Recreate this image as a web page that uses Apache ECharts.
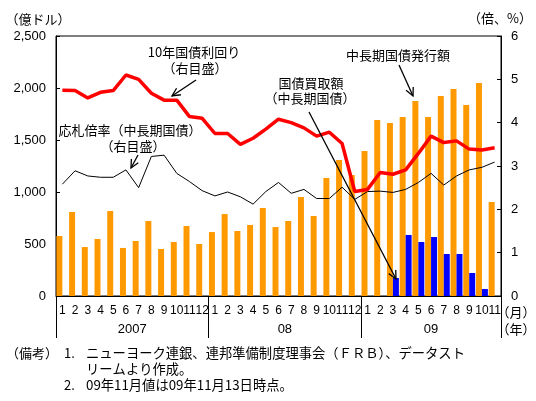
<!DOCTYPE html>
<html>
<head>
<meta charset="utf-8">
<script src="https://cdn.jsdelivr.net/npm/echarts@6/dist/echarts.min.js"></script>
<style>
  html, body { margin: 0; padding: 0; background: #fff; }
  #chart { width: 536px; height: 401px; }
</style>
</head>
<body>
<div id="chart"></div>
<script>
// 月（2007年1月〜2009年11月）
const months = [
  '1','2','3','4','5','6','7','8','9','10','11','12',
  '1','2','3','4','5','6','7','8','9','10','11','12',
  '1','2','3','4','5','6','7','8','9','10','11'
];
const yearLabels = ['2007', '08', '09'];
const yearLengths = [12, 12, 11];

// 中長期国債発行額（億ドル）
const issuance = [
  577, 808, 471, 548, 817, 462, 529, 721, 452, 519, 673, 500,
  615, 788, 625, 683, 846, 663, 721, 952, 769, 1135, 1308, 1163,
  1394, 1692, 1663, 1721, 1875, 1721, 1923, 1990, 1837, 2048, 904
];
// 国債買取額（中長期国債、億ドル）
const purchases = [
  null, null, null, null, null, null, null, null, null, null, null, null,
  null, null, null, null, null, null, null, null, null, null, null, null,
  null, null, 173, 587, 519, 567, 404, 404, 221, 67, null
];
// 10年国債利回り（%、右目盛）
const yield10y = [
  4.75, 4.74, 4.57, 4.70, 4.74, 5.10, 5.00, 4.68, 4.52, 4.52, 4.14, 4.10,
  3.75, 3.75, 3.50, 3.64, 3.85, 4.08, 4.00, 3.88, 3.69, 3.78, 3.52, 2.41,
  2.46, 2.85, 2.81, 2.91, 3.29, 3.69, 3.54, 3.58, 3.39, 3.37, 3.42
];
// 応札倍率（中長期国債、倍、右目盛）
const bidCover = [
  2.58, 2.89, 2.77, 2.74, 2.74, 2.91, 2.50, 3.22, 3.25, 2.83, 2.64, 2.43,
  2.31, 2.40, 2.29, 2.12, 2.41, 2.62, 2.37, 2.46, 2.25, 2.25, 2.51, 2.23,
  2.41, 2.42, 2.39, 2.46, 2.62, 2.83, 2.56, 2.77, 2.91, 2.97, 3.09
];

const font = "'Noto Sans CJK JP', sans-serif";

// 年の区切りとラベル位置
const yearBounds = [0];
const yearCenters = [];
yearLengths.forEach(n => {
  const start = yearBounds[yearBounds.length - 1];
  yearCenters.push(start + n / 2);
  yearBounds.push(start + n);
});

function txt(x, y, s, align, size) {
  return {
    type: 'text', x: x, y: y, z: 100,
    style: {
      text: s, fill: '#000', font: (size || 13) + 'px ' + font,
      align: align || 'center', verticalAlign: 'middle'
    }
  };
}

function arrow(x1, y1, x2, y2) {
  const a = Math.atan2(y2 - y1, x2 - x1);
  const len = 9, w = 0.45;
  const p1 = [x2 - len * Math.cos(a - w), y2 - len * Math.sin(a - w)];
  const p2 = [x2 - len * Math.cos(a + w), y2 - len * Math.sin(a + w)];
  return [
    { type: 'line', z: 100, shape: { x1: x1, y1: y1, x2: x2, y2: y2 },
      style: { stroke: '#000', lineWidth: 1.3 } },
    { type: 'polyline', z: 100, shape: { points: [p1, [x2, y2], p2] },
      style: { stroke: '#000', lineWidth: 1.3, fill: null } }
  ];
}

const chart = echarts.init(document.getElementById('chart'));

chart.setOption({
  animation: false,
  textStyle: { fontFamily: font, color: '#000' },
  grid: {
    left: 56, right: 35, top: 36, bottom: 105,
    show: true, borderColor: '#000', borderWidth: 1
  },
  xAxis: [
    {
      type: 'category',
      data: months,
      axisLine: { lineStyle: { color: '#000', width: 1 } },
      axisTick: { show: false },
      axisLabel: { interval: 0, color: '#000', fontSize: 12, margin: 9, fontFamily: 'Liberation Sans' }
    },
    {
      type: 'value',
      position: 'bottom',
      min: 0, max: 35,
      axisLine: { show: false },
      splitLine: { show: false },
      axisTick: {
        show: true, customValues: yearBounds, length: 42,
        lineStyle: { color: '#000', width: 1 }
      },
      axisLabel: {
        customValues: yearCenters,
        formatter: v => yearLabels[yearCenters.indexOf(v)] || '',
        color: '#000', fontSize: 13, margin: 27, fontFamily: 'Liberation Sans'
      }
    }
  ],
  yAxis: [
    {
      type: 'value', min: 0, max: 2500, interval: 500,
      axisLine: { show: true, lineStyle: { color: '#000' } },
      axisTick: { show: true, inside: true, length: 4, lineStyle: { color: '#000' } },
      splitLine: { show: false },
      axisLabel: {
        color: '#000', fontSize: 13, margin: 10, fontFamily: 'Liberation Sans',
        formatter: v => v.toLocaleString('en-US')
      }
    },
    {
      type: 'value', min: 0, max: 6, interval: 1, position: 'right',
      axisLine: { show: true, lineStyle: { color: '#000' } },
      axisTick: { show: true, inside: true, length: 4, lineStyle: { color: '#000' } },
      splitLine: { show: false },
      axisLabel: { color: '#000', fontSize: 13, margin: 10, fontFamily: 'Liberation Sans' }
    }
  ],
  series: [
    {
      name: '中長期国債発行額', type: 'bar', data: issuance,
      barGap: '0%', barCategoryGap: '6%',
      itemStyle: { color: '#FF9900' }
    },
    {
      name: '国債買取額', type: 'bar', data: purchases,
      itemStyle: { color: '#0000FF' }
    },
    {
      name: '10年国債利回り', type: 'line', yAxisIndex: 1, data: yield10y,
      symbol: 'none', lineStyle: { color: '#FF0000', width: 3.5 }, z: 5
    },
    {
      name: '応札倍率', type: 'line', yAxisIndex: 1, data: bidCover,
      symbol: 'none', lineStyle: { color: '#000', width: 1 }, z: 4
    }
  ],
  graphic: [
    txt(38, 19, '（億ドル）'),
    txt(500, 18, '（倍、%）'),
    txt(516, 312, '（月）'),
    txt(516, 329, '（年）'),
    txt(194, 52, '10年国債利回り'),
    txt(195, 68, '（右目盛）'),
    txt(130, 130, '応札倍率（中長期国債）'),
    txt(133, 146, '（右目盛）'),
    txt(311, 83, '国債買取額'),
    txt(310, 98, '（中長期国債）'),
    txt(398, 55, '中長期国債発行額'),
    ...arrow(196, 80, 172, 96),
    ...arrow(138, 155, 131, 168),
    ...arrow(309, 112, 396, 279),
    ...arrow(399, 65, 413, 96),
    txt(6, 353, '（備考）', 'left', 13),
    txt(64, 353, '1.', 'left', 13),
    txt(86, 353, 'ニューヨーク連銀、連邦準備制度理事会（ＦＲＢ）、データスト', 'left', 13.3),
    txt(86, 369, 'リームより作成。', 'left', 13.3),
    txt(64, 385, '2.', 'left', 13),
    txt(86, 385, '09年11月値は09年11月13日時点。', 'left', 13.3)
  ]
});
</script>
</body>
</html>
